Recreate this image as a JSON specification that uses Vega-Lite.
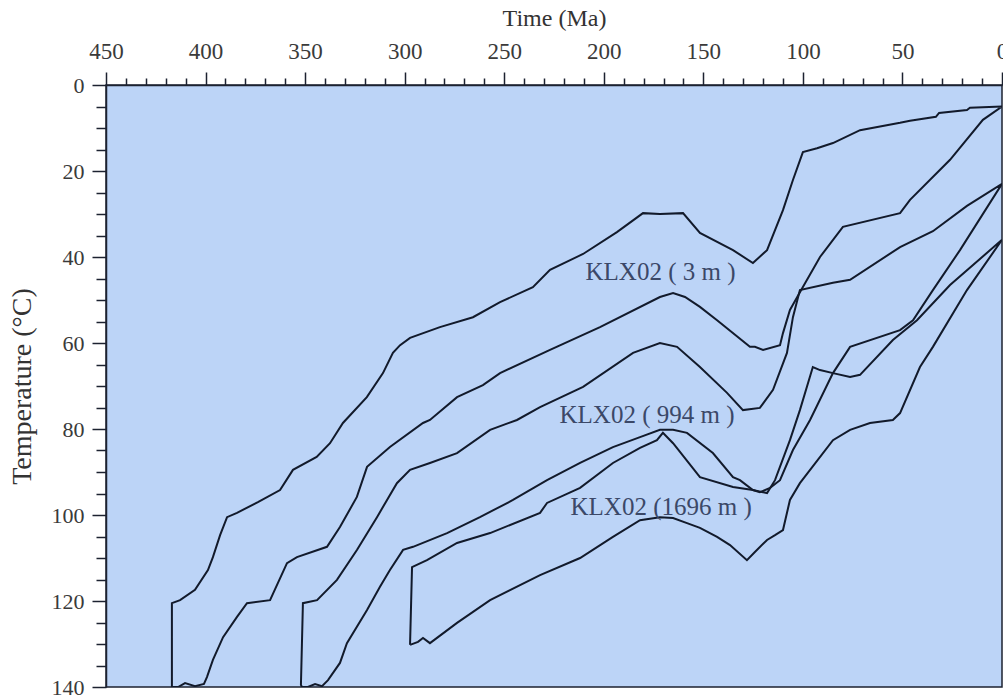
{
  "$schema": "https://vega.github.io/schema/vega-lite/v6.json",
  "width": 896,
  "height": 602,
  "autosize": {"type": "none"},
  "padding": {"left": 106, "top": 85, "right": 1, "bottom": 12},
  "background": "#ffffff",
  "config": {
    "view": {"fill": "#bcd4f7", "stroke": "#1c2230", "strokeWidth": 1.5},
    "font": "Liberation Serif",
    "axis": {"grid": false, "labelOverlap": false, "labelFlush": false}
  },
  "datasets": {
    "paths": [
      {"s": "3m", "i": 1, "t": 416.9, "T": 140},
      {"s": "3m", "i": 2, "t": 416.9, "T": 120.5},
      {"s": "3m", "i": 3, "t": 412.8, "T": 119.8},
      {"s": "3m", "i": 4, "t": 405.3, "T": 117.4},
      {"s": "3m", "i": 5, "t": 398.8, "T": 112.8},
      {"s": "3m", "i": 6, "t": 396.3, "T": 109.8},
      {"s": "3m", "i": 7, "t": 392.7, "T": 104.7},
      {"s": "3m", "i": 8, "t": 389.2, "T": 100.5},
      {"s": "3m", "i": 9, "t": 384.2, "T": 99.5},
      {"s": "3m", "i": 10, "t": 373.7, "T": 97.0},
      {"s": "3m", "i": 11, "t": 362.6, "T": 94.2},
      {"s": "3m", "i": 12, "t": 356.1, "T": 89.5},
      {"s": "3m", "i": 13, "t": 344.2, "T": 86.5},
      {"s": "3m", "i": 14, "t": 337.5, "T": 83.3},
      {"s": "3m", "i": 15, "t": 331.0, "T": 78.6},
      {"s": "3m", "i": 16, "t": 319.0, "T": 72.6},
      {"s": "3m", "i": 17, "t": 310.9, "T": 67.0},
      {"s": "3m", "i": 18, "t": 305.9, "T": 62.3},
      {"s": "3m", "i": 19, "t": 302.3, "T": 60.5},
      {"s": "3m", "i": 20, "t": 297.3, "T": 58.8},
      {"s": "3m", "i": 21, "t": 282.3, "T": 56.3},
      {"s": "3m", "i": 22, "t": 265.7, "T": 54.0},
      {"s": "3m", "i": 23, "t": 252.1, "T": 50.5},
      {"s": "3m", "i": 24, "t": 235.6, "T": 47.0},
      {"s": "3m", "i": 25, "t": 227.0, "T": 43.0},
      {"s": "3m", "i": 26, "t": 210.4, "T": 39.3},
      {"s": "3m", "i": 27, "t": 193.4, "T": 34.2},
      {"s": "3m", "i": 28, "t": 180.3, "T": 29.8},
      {"s": "3m", "i": 29, "t": 171.8, "T": 30.0},
      {"s": "3m", "i": 30, "t": 160.2, "T": 29.8},
      {"s": "3m", "i": 31, "t": 151.7, "T": 34.4},
      {"s": "3m", "i": 32, "t": 135.1, "T": 38.4},
      {"s": "3m", "i": 33, "t": 125.1, "T": 41.4},
      {"s": "3m", "i": 34, "t": 118.0, "T": 38.4},
      {"s": "3m", "i": 35, "t": 110.0, "T": 29.1},
      {"s": "3m", "i": 36, "t": 105.0, "T": 22.1},
      {"s": "3m", "i": 37, "t": 100.0, "T": 15.6},
      {"s": "3m", "i": 38, "t": 92.9, "T": 14.7},
      {"s": "3m", "i": 39, "t": 84.9, "T": 13.5},
      {"s": "3m", "i": 40, "t": 71.3, "T": 10.5},
      {"s": "3m", "i": 41, "t": 51.2, "T": 8.8},
      {"s": "3m", "i": 42, "t": 46.2, "T": 8.3},
      {"s": "3m", "i": 43, "t": 33.2, "T": 7.4},
      {"s": "3m", "i": 44, "t": 31.6, "T": 6.5},
      {"s": "3m", "i": 45, "t": 17.6, "T": 5.8},
      {"s": "3m", "i": 46, "t": 16.1, "T": 5.3},
      {"s": "3m", "i": 47, "t": 0, "T": 5.0},
      {"s": "3m", "i": 48, "t": 9.6, "T": 8.1},
      {"s": "3m", "i": 49, "t": 26.1, "T": 17.4},
      {"s": "3m", "i": 50, "t": 46.2, "T": 26.7},
      {"s": "3m", "i": 51, "t": 51.2, "T": 29.8},
      {"s": "3m", "i": 52, "t": 79.9, "T": 33.0},
      {"s": "3m", "i": 53, "t": 91.4, "T": 40.0},
      {"s": "3m", "i": 54, "t": 100.0, "T": 47.0},
      {"s": "3m", "i": 55, "t": 106.5, "T": 52.3},
      {"s": "3m", "i": 56, "t": 110.0, "T": 57.7},
      {"s": "3m", "i": 57, "t": 111.5, "T": 60.5},
      {"s": "3m", "i": 58, "t": 120.0, "T": 61.6},
      {"s": "3m", "i": 59, "t": 124.1, "T": 60.9},
      {"s": "3m", "i": 60, "t": 126.6, "T": 60.9},
      {"s": "3m", "i": 61, "t": 143.1, "T": 54.7},
      {"s": "3m", "i": 62, "t": 151.7, "T": 51.6},
      {"s": "3m", "i": 63, "t": 159.2, "T": 49.3},
      {"s": "3m", "i": 64, "t": 165.2, "T": 48.4},
      {"s": "3m", "i": 65, "t": 171.8, "T": 49.3},
      {"s": "3m", "i": 66, "t": 201.9, "T": 56.3},
      {"s": "3m", "i": 67, "t": 227.0, "T": 61.6},
      {"s": "3m", "i": 68, "t": 252.1, "T": 67.0},
      {"s": "3m", "i": 69, "t": 260.7, "T": 69.8},
      {"s": "3m", "i": 70, "t": 273.7, "T": 72.6},
      {"s": "3m", "i": 71, "t": 287.3, "T": 77.9},
      {"s": "3m", "i": 72, "t": 290.8, "T": 78.6},
      {"s": "3m", "i": 73, "t": 307.4, "T": 84.2},
      {"s": "3m", "i": 74, "t": 318.9, "T": 88.8},
      {"s": "3m", "i": 75, "t": 324.0, "T": 95.8},
      {"s": "3m", "i": 76, "t": 332.5, "T": 102.8},
      {"s": "3m", "i": 77, "t": 339.0, "T": 107.4},
      {"s": "3m", "i": 78, "t": 354.1, "T": 109.8},
      {"s": "3m", "i": 79, "t": 359.1, "T": 111.2},
      {"s": "3m", "i": 80, "t": 367.6, "T": 119.8},
      {"s": "3m", "i": 81, "t": 379.2, "T": 120.5},
      {"s": "3m", "i": 82, "t": 384.2, "T": 123.7},
      {"s": "3m", "i": 83, "t": 391.2, "T": 128.4},
      {"s": "3m", "i": 84, "t": 396.3, "T": 133.7},
      {"s": "3m", "i": 85, "t": 399.3, "T": 137.7},
      {"s": "3m", "i": 86, "t": 400.8, "T": 139.3},
      {"s": "3m", "i": 87, "t": 405.3, "T": 139.8},
      {"s": "3m", "i": 88, "t": 410.3, "T": 139.1},
      {"s": "3m", "i": 89, "t": 413.8, "T": 140},
      {"s": "3m", "i": 90, "t": 416.9, "T": 140},

      {"s": "994m", "i": 1, "t": 351.6, "T": 140},
      {"s": "994m", "i": 2, "t": 352.1, "T": 139.5},
      {"s": "994m", "i": 3, "t": 351.1, "T": 120.5},
      {"s": "994m", "i": 4, "t": 344.0, "T": 119.8},
      {"s": "994m", "i": 5, "t": 334.0, "T": 115.1},
      {"s": "994m", "i": 6, "t": 323.9, "T": 108.1},
      {"s": "994m", "i": 7, "t": 313.9, "T": 100.5},
      {"s": "994m", "i": 8, "t": 303.9, "T": 92.6},
      {"s": "994m", "i": 9, "t": 297.3, "T": 89.5},
      {"s": "994m", "i": 10, "t": 287.3, "T": 87.9},
      {"s": "994m", "i": 11, "t": 273.7, "T": 85.6},
      {"s": "994m", "i": 12, "t": 257.1, "T": 80.2},
      {"s": "994m", "i": 13, "t": 243.6, "T": 77.9},
      {"s": "994m", "i": 14, "t": 232.0, "T": 74.9},
      {"s": "994m", "i": 15, "t": 210.4, "T": 70.2},
      {"s": "994m", "i": 16, "t": 185.3, "T": 62.3},
      {"s": "994m", "i": 17, "t": 171.8, "T": 60.0},
      {"s": "994m", "i": 18, "t": 163.2, "T": 60.9},
      {"s": "994m", "i": 19, "t": 151.7, "T": 65.6},
      {"s": "994m", "i": 20, "t": 138.1, "T": 71.6},
      {"s": "994m", "i": 21, "t": 130.1, "T": 75.6},
      {"s": "994m", "i": 22, "t": 121.6, "T": 75.1},
      {"s": "994m", "i": 23, "t": 115.0, "T": 70.9},
      {"s": "994m", "i": 24, "t": 108.0, "T": 62.3},
      {"s": "994m", "i": 25, "t": 105.0, "T": 54.0},
      {"s": "994m", "i": 26, "t": 101.5, "T": 47.7},
      {"s": "994m", "i": 27, "t": 84.9, "T": 46.0},
      {"s": "994m", "i": 28, "t": 76.3, "T": 45.3},
      {"s": "994m", "i": 29, "t": 51.2, "T": 37.7},
      {"s": "994m", "i": 30, "t": 34.7, "T": 34.0},
      {"s": "994m", "i": 31, "t": 17.6, "T": 28.1},
      {"s": "994m", "i": 32, "t": 0, "T": 23.0},
      {"s": "994m", "i": 33, "t": 21.1, "T": 38.4},
      {"s": "994m", "i": 34, "t": 34.7, "T": 47.7},
      {"s": "994m", "i": 35, "t": 44.7, "T": 54.7},
      {"s": "994m", "i": 36, "t": 51.2, "T": 57.0},
      {"s": "994m", "i": 37, "t": 76.3, "T": 60.9},
      {"s": "994m", "i": 38, "t": 84.9, "T": 67.0},
      {"s": "994m", "i": 39, "t": 96.4, "T": 77.9},
      {"s": "994m", "i": 40, "t": 105.0, "T": 84.9},
      {"s": "994m", "i": 41, "t": 111.5, "T": 91.9},
      {"s": "994m", "i": 42, "t": 116.5, "T": 93.7},
      {"s": "994m", "i": 43, "t": 121.6, "T": 94.7},
      {"s": "994m", "i": 44, "t": 125.1, "T": 94.2},
      {"s": "994m", "i": 45, "t": 131.6, "T": 91.9},
      {"s": "994m", "i": 46, "t": 135.1, "T": 91.2},
      {"s": "994m", "i": 47, "t": 145.2, "T": 85.6},
      {"s": "994m", "i": 48, "t": 158.2, "T": 80.9},
      {"s": "994m", "i": 49, "t": 165.2, "T": 80.2},
      {"s": "994m", "i": 50, "t": 171.8, "T": 80.2},
      {"s": "994m", "i": 51, "t": 181.8, "T": 81.9},
      {"s": "994m", "i": 52, "t": 195.4, "T": 84.2},
      {"s": "994m", "i": 53, "t": 211.9, "T": 87.9},
      {"s": "994m", "i": 54, "t": 228.5, "T": 91.9},
      {"s": "994m", "i": 55, "t": 245.6, "T": 96.5},
      {"s": "994m", "i": 56, "t": 262.2, "T": 100.5},
      {"s": "994m", "i": 57, "t": 278.7, "T": 104.2},
      {"s": "994m", "i": 58, "t": 295.8, "T": 107.4},
      {"s": "994m", "i": 59, "t": 300.8, "T": 108.1},
      {"s": "994m", "i": 60, "t": 307.4, "T": 112.8},
      {"s": "994m", "i": 61, "t": 312.4, "T": 116.7},
      {"s": "994m", "i": 62, "t": 318.9, "T": 122.1},
      {"s": "994m", "i": 63, "t": 329.0, "T": 129.8},
      {"s": "994m", "i": 64, "t": 332.5, "T": 134.4},
      {"s": "994m", "i": 65, "t": 338.5, "T": 138.4},
      {"s": "994m", "i": 66, "t": 341.5, "T": 139.8},
      {"s": "994m", "i": 67, "t": 345.0, "T": 139.3},
      {"s": "994m", "i": 68, "t": 348.6, "T": 140},
      {"s": "994m", "i": 69, "t": 351.6, "T": 140},

      {"s": "1696m", "i": 1, "t": 297.3, "T": 130.2},
      {"s": "1696m", "i": 2, "t": 296.3, "T": 112.1},
      {"s": "1696m", "i": 3, "t": 288.8, "T": 110.5},
      {"s": "1696m", "i": 4, "t": 273.7, "T": 106.5},
      {"s": "1696m", "i": 5, "t": 257.1, "T": 104.2},
      {"s": "1696m", "i": 6, "t": 232.0, "T": 99.5},
      {"s": "1696m", "i": 7, "t": 228.5, "T": 97.2},
      {"s": "1696m", "i": 8, "t": 211.9, "T": 93.7},
      {"s": "1696m", "i": 9, "t": 195.4, "T": 87.9},
      {"s": "1696m", "i": 10, "t": 181.8, "T": 84.4},
      {"s": "1696m", "i": 11, "t": 173.3, "T": 82.6},
      {"s": "1696m", "i": 12, "t": 170.3, "T": 80.9},
      {"s": "1696m", "i": 13, "t": 165.2, "T": 83.3},
      {"s": "1696m", "i": 14, "t": 151.7, "T": 91.2},
      {"s": "1696m", "i": 15, "t": 135.1, "T": 93.5},
      {"s": "1696m", "i": 16, "t": 125.1, "T": 94.2},
      {"s": "1696m", "i": 17, "t": 118.0, "T": 94.9},
      {"s": "1696m", "i": 18, "t": 114.0, "T": 91.9},
      {"s": "1696m", "i": 19, "t": 106.5, "T": 82.6},
      {"s": "1696m", "i": 20, "t": 101.5, "T": 75.6},
      {"s": "1696m", "i": 21, "t": 95.0, "T": 65.6},
      {"s": "1696m", "i": 22, "t": 91.4, "T": 66.3},
      {"s": "1696m", "i": 23, "t": 84.9, "T": 67.0},
      {"s": "1696m", "i": 24, "t": 76.3, "T": 67.9},
      {"s": "1696m", "i": 25, "t": 71.3, "T": 67.4},
      {"s": "1696m", "i": 26, "t": 54.8, "T": 59.3},
      {"s": "1696m", "i": 27, "t": 42.7, "T": 54.7},
      {"s": "1696m", "i": 28, "t": 26.1, "T": 46.5},
      {"s": "1696m", "i": 29, "t": 0, "T": 36.0},
      {"s": "1696m", "i": 30, "t": 17.6, "T": 47.7},
      {"s": "1696m", "i": 31, "t": 34.7, "T": 60.9},
      {"s": "1696m", "i": 32, "t": 41.2, "T": 65.6},
      {"s": "1696m", "i": 33, "t": 51.2, "T": 76.3},
      {"s": "1696m", "i": 34, "t": 54.8, "T": 77.9},
      {"s": "1696m", "i": 35, "t": 66.3, "T": 78.6},
      {"s": "1696m", "i": 36, "t": 76.3, "T": 80.2},
      {"s": "1696m", "i": 37, "t": 84.9, "T": 82.6},
      {"s": "1696m", "i": 38, "t": 101.5, "T": 92.6},
      {"s": "1696m", "i": 39, "t": 106.5, "T": 96.5},
      {"s": "1696m", "i": 40, "t": 110.0, "T": 103.5},
      {"s": "1696m", "i": 41, "t": 114.0, "T": 104.7},
      {"s": "1696m", "i": 42, "t": 118.0, "T": 105.8},
      {"s": "1696m", "i": 43, "t": 124.1, "T": 108.6},
      {"s": "1696m", "i": 44, "t": 128.1, "T": 110.5},
      {"s": "1696m", "i": 45, "t": 136.6, "T": 107.0},
      {"s": "1696m", "i": 46, "t": 143.1, "T": 105.1},
      {"s": "1696m", "i": 47, "t": 151.7, "T": 103.0},
      {"s": "1696m", "i": 48, "t": 158.2, "T": 101.9},
      {"s": "1696m", "i": 49, "t": 165.2, "T": 100.7},
      {"s": "1696m", "i": 50, "t": 171.8, "T": 100.5},
      {"s": "1696m", "i": 51, "t": 181.8, "T": 101.2},
      {"s": "1696m", "i": 52, "t": 195.4, "T": 105.1},
      {"s": "1696m", "i": 53, "t": 211.9, "T": 110.0},
      {"s": "1696m", "i": 54, "t": 232.0, "T": 114.0},
      {"s": "1696m", "i": 55, "t": 257.1, "T": 119.8},
      {"s": "1696m", "i": 56, "t": 273.7, "T": 125.1},
      {"s": "1696m", "i": 57, "t": 287.3, "T": 129.8},
      {"s": "1696m", "i": 58, "t": 290.8, "T": 128.6},
      {"s": "1696m", "i": 59, "t": 293.3, "T": 129.5},
      {"s": "1696m", "i": 60, "t": 297.3, "T": 130.2}
    ],
    "labels": [
      {"text": "KLX02 ( 3 m )", "t": 171.5, "T": 43.5},
      {"text": "KLX02 ( 994 m )", "t": 178.3, "T": 76.7},
      {"text": "KLX02 (1696 m )", "t": 171.2, "T": 98.1}
    ]
  },
  "resolve": {"axis": {"x": "independent", "y": "independent"}},
  "layer": [
    {
      "data": {"name": "paths"},
      "mark": {"type": "line", "color": "#121a2b", "strokeWidth": 2, "strokeJoin": "miter", "clip": true},
      "encoding": {
        "x": {
          "field": "t",
          "type": "quantitative",
          "scale": {"domain": [0, 450], "reverse": true, "nice": false, "zero": false},
          "axis": {
            "orient": "top",
            "title": "Time (Ma)",
            "titleFont": "Liberation Serif",
            "titleFontSize": 24,
            "titleFontWeight": "normal",
            "titleColor": "#333333",
            "titlePadding": 10,
            "values": [0, 50, 100, 150, 200, 250, 300, 350, 400, 450],
            "labelFont": "Liberation Serif",
            "labelFontSize": 23,
            "labelColor": "#3a3a3a",
            "labelPadding": 9,
            "tickSize": 13,
            "tickColor": "#1c2230",
            "tickWidth": 1.5,
            "domainColor": "#1c2230",
            "domainWidth": 1.5
          }
        },
        "y": {
          "field": "T",
          "type": "quantitative",
          "scale": {"domain": [0, 140], "reverse": true, "nice": false},
          "axis": {
            "orient": "left",
            "title": "Temperature (°C)",
            "titleFont": "Liberation Serif",
            "titleFontSize": 28,
            "titleFontWeight": "normal",
            "titleColor": "#333333",
            "titlePadding": 15,
            "values": [0, 20, 40, 60, 80, 100, 120, 140],
            "labelFont": "Liberation Serif",
            "labelFontSize": 22,
            "labelColor": "#3a3a3a",
            "labelPadding": 8,
            "tickSize": 14,
            "tickColor": "#1c2230",
            "tickWidth": 1.5,
            "domainColor": "#1c2230",
            "domainWidth": 1.5
          }
        },
        "detail": {"field": "s"},
        "order": {"field": "i", "type": "quantitative"}
      }
    },
    {
      "data": {"name": "labels"},
      "mark": {"type": "text", "font": "Liberation Serif", "fontSize": 25, "color": "#3b4868", "align": "center", "baseline": "middle"},
      "encoding": {
        "x": {
          "field": "t",
          "type": "quantitative",
          "axis": {
            "orient": "top",
            "title": null,
            "values": [10, 20, 30, 40, 60, 70, 80, 90, 110, 120, 130, 140, 160, 170, 180, 190, 210, 220, 230, 240, 260, 270, 280, 290, 310, 320, 330, 340, 360, 370, 380, 390, 410, 420, 430, 440],
            "labels": false,
            "domain": false,
            "tickSize": 7,
            "tickColor": "#1c2230",
            "tickWidth": 1.5
          }
        },
        "y": {
          "field": "T",
          "type": "quantitative",
          "axis": {
            "orient": "left",
            "title": null,
            "values": [5, 10, 15, 25, 30, 35, 45, 50, 55, 65, 70, 75, 85, 90, 95, 105, 110, 115, 125, 130, 135],
            "labels": false,
            "domain": false,
            "tickSize": 10,
            "tickColor": "#1c2230",
            "tickWidth": 1.5
          }
        },
        "text": {"field": "text"}
      }
    }
  ]
}
